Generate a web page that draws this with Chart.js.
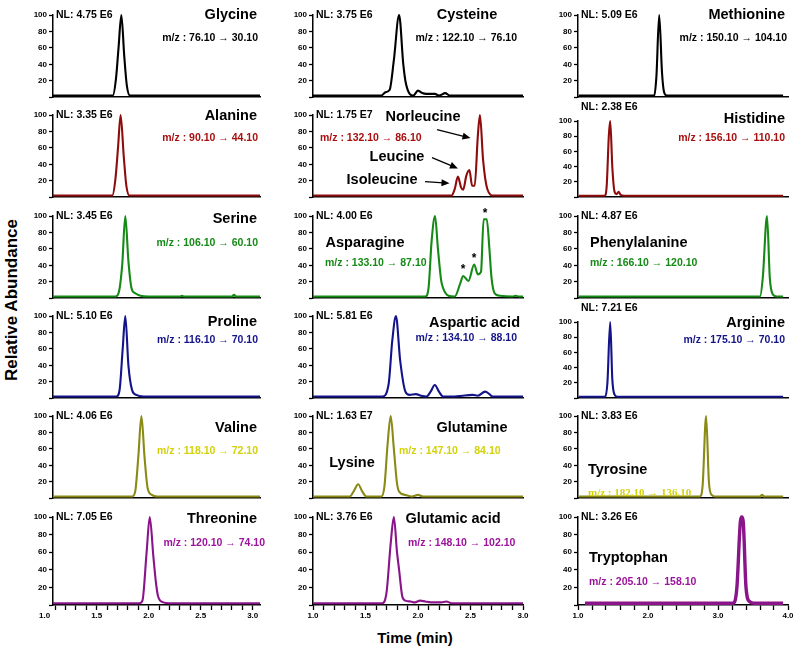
<!DOCTYPE html>
<html>
<head>
<meta charset="utf-8">
<script src="https://cdn.jsdelivr.net/npm/chart.js@4.4.0/dist/chart.umd.min.js"></script>
<style>
  body { margin: 0; background: #fff; width: 800px; height: 653px; position: relative; overflow: hidden;
         font-family: "Liberation Sans", Arial, sans-serif; }
  canvas { position: absolute; }
  .title { position: absolute; font-weight: bold; color: #000; white-space: nowrap; }
  #ylab { left: 12px; top: 300px; font-size: 17px; transform: translate(-50%, -50%) rotate(-90deg); }
  #xlab { left: 415px; top: 637px; font-size: 15px; transform: translate(-50%, -50%); }
</style>
</head>
<body>
<div class="title" id="ylab">Relative Abundance</div>
<div class="title" id="xlab">Time (min)</div>
<script>
// traces: [time (min), relative abundance %]
const glycine = [[1.08,2],[1.655,2],[1.685,22],[1.71,60],[1.737,100],[1.765,50],[1.79,14],[1.82,2],[3.07,2]];
const cysteine = [[1.0,2],[1.65,2],[1.69,6],[1.73,9],[1.77,45],[1.82,100],[1.86,40],[1.886,16],[1.955,2],[2.0,8],[2.04,5],[2.08,4],[2.12,4],[2.16,4],[2.2,2],[2.26,5],[2.3,2],[3.0,2]];
const methionine = [[1.01,2],[2.09,2],[2.12,25],[2.16,100],[2.20,30],[2.23,6],[2.27,2],[3.93,2]];
const alanine = [[1.08,2],[1.65,2],[1.68,22],[1.705,60],[1.73,100],[1.76,50],[1.785,14],[1.815,2],[3.07,2]];
const norleucine = [[1.0,2],[2.32,2],[2.35,10],[2.38,25],[2.41,12],[2.43,9],[2.46,26],[2.49,33],[2.515,14],[2.54,14],[2.57,75],[2.59,100],[2.62,45],[2.66,10],[2.72,2],[3.0,2]];
const histidine = [[1.01,2],[1.38,2],[1.41,15],[1.44,80],[1.46,100],[1.49,40],[1.52,8],[1.55,4],[1.58,7],[1.61,3],[1.66,2],[3.93,2]];
const serine = [[1.08,2],[1.68,2],[1.71,6],[1.745,40],[1.775,100],[1.805,45],[1.835,12],[1.87,6],[1.92,3],[2.0,2],[2.3,2],[2.32,3],[2.34,2],[2.8,2],[2.82,4],[2.84,2],[3.07,2]];
const asparagine = [[1.0,2],[2.07,2],[2.10,12],[2.13,70],[2.162,100],[2.19,60],[2.22,22],[2.24,12],[2.29,3],[2.35,2],[2.40,17],[2.43,27],[2.48,21],[2.535,41],[2.57,29],[2.60,32],[2.625,96],[2.655,96],[2.68,60],[2.70,25],[2.73,6],[2.78,3],[2.9,2],[2.93,3],[2.96,2],[3.0,2]];
const phenylalanine = [[1.01,2],[3.6,2],[3.64,25],[3.70,100],[3.74,25],[3.78,5],[3.84,2],[3.93,2]];
const proline = [[1.08,2],[1.69,2],[1.72,10],[1.75,60],[1.775,100],[1.805,40],[1.84,10],[1.88,4],[1.95,2],[3.07,2]];
const asparticAcid = [[1.0,2],[1.66,2],[1.72,17],[1.755,70],[1.79,100],[1.83,46],[1.88,8],[1.92,4],[1.98,5],[2.03,3],[2.08,2],[2.12,8],[2.16,16],[2.2,8],[2.24,2],[2.35,2],[2.42,3],[2.52,4],[2.57,3],[2.64,8],[2.68,5],[2.71,2],[3.0,2]];
const arginine = [[1.01,2],[1.39,2],[1.42,20],[1.46,100],[1.49,25],[1.52,5],[1.56,2],[3.93,2]];
const valine = [[1.08,2],[1.84,2],[1.87,8],[1.90,50],[1.93,100],[1.96,50],[1.99,12],[2.03,4],[2.08,2],[3.07,2]];
const glutamine = [[1.0,2],[1.35,2],[1.39,9],[1.43,17],[1.47,8],[1.51,2],[1.65,2],[1.68,14],[1.71,65],[1.74,100],[1.77,60],[1.8,18],[1.82,8],[1.88,4],[1.94,2],[2.0,4],[2.05,2],[3.0,2]];
const tyrosine = [[1.01,2],[2.74,2],[2.78,15],[2.83,100],[2.87,20],[2.91,4],[2.96,2],[3.6,2],[3.63,4],[3.66,2],[3.93,2]];
const threonine = [[1.08,2],[1.91,2],[1.94,5],[1.98,60],[2.01,100],[2.045,55],[2.07,25],[2.09,10],[2.14,3],[2.2,2],[3.07,2]];
const glutamicAcid = [[1.0,2],[1.66,2],[1.70,14],[1.74,70],[1.77,100],[1.80,60],[1.82,40],[1.85,10],[1.88,5],[1.93,4],[1.97,3],[2.02,5],[2.07,4],[2.12,3],[2.22,3],[2.27,4],[2.32,2],[3.0,2]];
const tryptophan = [[1.1,2],[3.22,2],[3.27,20],[3.32,95],[3.34,100],[3.36,95],[3.40,20],[3.45,4],[3.52,2],[3.93,2]];

// panels, row by row (3 per row)
const traces = [glycine, cysteine, methionine, alanine, norleucine, histidine, serine, asparagine, phenylalanine,
  proline, asparticAcid, arginine, valine, glutamine, tyrosine, threonine, glutamicAcid, tryptophan];
const compounds = ['Glycine','Cysteine','Methionine','Alanine','Norleucine','Histidine','Serine','Asparagine','Phenylalanine',
  'Proline','Aspartic acid','Arginine','Valine','Glutamine','Tyrosine','Threonine','Glutamic acid','Tryptophan'];
const nlLabels = ['NL: 4.75 E6','NL: 3.75 E6','NL: 5.09 E6','NL: 3.35 E6','NL: 1.75 E7','NL: 2.38 E6','NL: 3.45 E6','NL: 4.00 E6','NL: 4.87 E6',
  'NL: 5.10 E6','NL: 5.81 E6','NL: 7.21 E6','NL: 4.06 E6','NL: 1.63 E7','NL: 3.83 E6','NL: 7.05 E6','NL: 3.76 E6','NL: 3.26 E6'];
const mzLabels = ['m/z : 76.10 → 30.10','m/z : 122.10 → 76.10','m/z : 150.10 → 104.10','m/z : 90.10 → 44.10','m/z : 132.10 → 86.10',
  'm/z : 156.10 → 110.10','m/z : 106.10 → 60.10','m/z : 133.10 → 87.10','m/z : 166.10 → 120.10','m/z : 116.10 → 70.10',
  'm/z : 134.10 → 88.10','m/z : 175.10 → 70.10','m/z : 118.10 → 72.10','m/z : 147.10 → 84.10','m/z : 182.10 → 136.10',
  'm/z : 120.10 → 74.10','m/z : 148.10 → 102.10','m/z : 205.10 → 158.10'];
// norleucine panel peaks and asparagine isomers
const leuPeaks = ['Norleucine','Leucine','Isoleucine'];
const leuTips = [[2.50,72],[2.38,35],[2.30,17]];
const asnStars = [[2.43,27],[2.535,41],[2.64,96]];
const extraLabels = ['Lysine'];

const yTicks = [0, 20, 40, 60, 80, 100];
const xLabelsA = ['1.0','1.5','2.0','2.5','3.0'];
const xLabelsC = ['1.0','2.0','3.0','4.0'];

// layout
const FONT = '"Liberation Sans", Arial, sans-serif';
Chart.defaults.font.family = FONT;
const cols = [
  { axis: 53,  min: 1.08, max: 3.07, ppu: 104, labels: xLabelsA, step: 0.1 },
  { axis: 313, min: 1.0,  max: 3.0,  ppu: 105, labels: xLabelsA, step: 0.1 },
  { axis: 578, min: 1.0,  max: 4.0,  ppu: 70,  labels: xLabelsC, step: 0.2 }
];
const rowTop = r => 15 + 100.35 * r;
const PLOT_H = 87.5, Y_W = 32, PAD_T = 24, PAD_R = 14;
const topShift = { 5: 6, 11: 6 };   // Histidine and Arginine axes start lower
const lineColors = ['#000000','#8e0c0c','#168a16','#14148a','#8a8a16','#8a148a'];
const mzColors = ['#000000','#a80f0f','#168a16','#14148a','#d2d20a','#9c149c'];

// where the name and m/z go (page px, align)
const namePos = [
  [257,15,'right'],[467,15,'center'],[785,15,'right'],
  [257,116,'right'],[423,117,'center'],[785,119,'right'],
  [257,219,'right'],[365,243,'center'],[590,243,'left'],
  [257,322,'right'],[520,323,'right'],[785,323,'right'],
  [257,428,'right'],[472,428,'center'],[588,470,'left'],
  [257,519,'right'],[453,519,'center'],[589,558,'left']
];
const mzPos = [
  [258,38,'right'],[517,38,'right'],[787,38,'right'],
  [258,138,'right'],[320,138,'left'],[785,138,'right'],
  [258,243,'right'],[325,263,'left'],[590,263,'left'],
  [258,340,'right'],[517,338,'right'],[785,340,'right'],
  [258,452,'right'],[399,452,'left'],[588,494,'left'],
  [265,543,'right'],[408,543,'left'],[589,582,'left']
];

// draws the texts, arrows and asterisks of one panel
const notesPlugin = {
  id: 'notes',
  afterDatasetsDraw(chart, args, o) {
    const ctx = chart.ctx;
    const xs = chart.scales.x, ys = chart.scales.y;
    ctx.save();
    ctx.textBaseline = 'middle';
    for (const t of o.texts) {
      ctx.font = `bold ${t.size}px ${t.family || FONT}`;
      ctx.fillStyle = t.color;
      ctx.textAlign = t.align;
      ctx.fillText(t.text, t.x - o.left, t.y - o.top);
    }
    ctx.fillStyle = '#000';
    ctx.strokeStyle = '#000';
    ctx.textAlign = 'center';
    ctx.font = `bold 12px ${FONT}`;
    for (const s of o.stars || []) {
      ctx.fillText('*', xs.getPixelForValue(s[0]), ys.getPixelForValue(s[1]) - 6);
    }
    ctx.lineWidth = 1.3;
    for (const a of o.arrows || []) {
      const x0 = a.from[0] - o.left, y0 = a.from[1] - o.top;
      const x1 = xs.getPixelForValue(a.to[0]), y1 = ys.getPixelForValue(a.to[1]);
      const ang = Math.atan2(y1 - y0, x1 - x0);
      ctx.beginPath();
      ctx.moveTo(x0, y0);
      ctx.lineTo(x1 - 6 * Math.cos(ang), y1 - 6 * Math.sin(ang));
      ctx.stroke();
      ctx.beginPath();
      ctx.moveTo(x1, y1);
      ctx.lineTo(x1 - 8 * Math.cos(ang) + 3.5 * Math.sin(ang), y1 - 8 * Math.sin(ang) - 3.5 * Math.cos(ang));
      ctx.lineTo(x1 - 8 * Math.cos(ang) - 3.5 * Math.sin(ang), y1 - 8 * Math.sin(ang) + 3.5 * Math.cos(ang));
      ctx.closePath();
      ctx.fill();
    }
    ctx.restore();
  }
};

function makePanel(i) {
  const r = Math.floor(i / 3), c = i % 3;
  const col = cols[c];
  const bottom = r === 5;
  const xH = bottom ? 22 : 1;
  const shift = topShift[i] || 0;
  const plotH = PLOT_H - shift;
  const plotW = (col.max - col.min) * col.ppu;
  const left = col.axis - Y_W;
  const top = rowTop(r) + shift - PAD_T;
  const W = Math.round(Y_W + plotW + PAD_R);
  const H = Math.round(PAD_T + plotH + xH);

  const cv = document.createElement('canvas');
  cv.width = W; cv.height = H;
  cv.style.left = left + 'px'; cv.style.top = top + 'px';
  cv.style.width = W + 'px'; cv.style.height = H + 'px';
  document.body.appendChild(cv);

  const majors = col.labels.map(Number);
  const tickVals = [];
  for (let v = majors[0]; v <= majors[majors.length - 1] + 1e-9; v += col.step) tickVals.push(+v.toFixed(2));

  const nameSize = 14.5;
  const texts = [
    { text: nlLabels[i], x: col.axis + 3, y: rowTop(r) + (shift ? -8 : 0), align: 'left', size: 10.5, color: '#000' },
    { text: compounds[i], x: namePos[i][0], y: namePos[i][1], align: namePos[i][2], size: nameSize, color: '#000' },
    { text: mzLabels[i], x: mzPos[i][0], y: mzPos[i][1], align: mzPos[i][2], size: 10.5, color: (i === 1 || i === 2) ? '#000' : mzColors[r] }
  ];
  if (i === 14) { texts[2].family = '"Liberation Serif", "Times New Roman", serif'; texts[2].size = 11; }
  const notes = { texts, left, top };
  if (i === 4) {
    texts[1].text = leuPeaks[0];
    texts.push({ text: leuPeaks[1], x: 397, y: 157, align: 'center', size: nameSize, color: '#000' });
    texts.push({ text: leuPeaks[2], x: 382, y: 180, align: 'center', size: nameSize, color: '#000' });
    notes.arrows = [
      { from: [437, 130], to: leuTips[0] },
      { from: [432, 158], to: leuTips[1] },
      { from: [425, 182], to: leuTips[2] }
    ];
  }
  if (i === 7) notes.stars = asnStars;
  if (i === 13) texts.push({ text: extraLabels[0], x: 352, y: 463, align: 'center', size: nameSize, color: '#000' });

  new Chart(cv, {
    type: 'line',
    data: {
      datasets: [{
        data: traces[i].map(p => ({ x: p[0], y: p[1] })),
        borderColor: lineColors[r],
        borderWidth: i === 17 ? 3.4 : 2.1,
        pointRadius: 0,
        cubicInterpolationMode: 'monotone',
        fill: false,
        clip: 6
      }]
    },
    options: {
      responsive: false,
      animation: false,
      events: [],
      layout: { padding: { top: PAD_T, right: PAD_R, left: 0, bottom: 0 } },
      plugins: { legend: { display: false }, tooltip: { enabled: false }, notes },
      scales: {
        x: {
          type: 'linear',
          min: col.min, max: col.max,
          afterFit: s => { s.height = xH; },
          afterBuildTicks: s => { s.ticks = tickVals.map(v => ({ value: v })); },
          border: { display: true, color: '#000', width: 1.5 },
          grid: {
            display: bottom, drawOnChartArea: false, drawTicks: bottom, tickLength: 5, tickWidth: 1.3,
            tickColor: ctx => (ctx.tick && ctx.tick.value < col.min - 1e-9) ? 'rgba(0,0,0,0)' : '#000'
          },
          ticks: {
            display: bottom, autoSkip: false, maxRotation: 0, padding: 1,
            color: '#000', font: { size: 8, weight: 'bold' },
            callback: v => majors.some(m => Math.abs(m - v) < 1e-6) ? (+v).toFixed(1) : ''
          }
        },
        y: {
          min: 0, max: 100,
          afterFit: s => { s.width = Y_W; },
          afterBuildTicks: s => { s.ticks = yTicks.map(v => ({ value: v })); },
          border: { display: true, color: '#000', width: 1.5 },
          grid: { display: true, drawOnChartArea: false, drawTicks: true, tickLength: 4, tickWidth: 1.3, tickColor: '#000' },
          ticks: { color: '#000', padding: 2, font: { size: 8, weight: 'bold' }, callback: v => v === 0 ? '' : v }
        }
      }
    },
    plugins: [notesPlugin]
  });
}

for (let i = 0; i < traces.length; i++) makePanel(i);
</script>
</body>
</html>
